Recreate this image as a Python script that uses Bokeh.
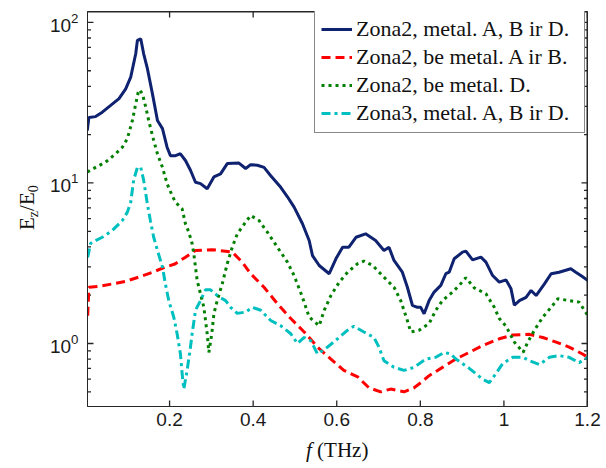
from bokeh.plotting import figure
from bokeh.models import (Range1d, FixedTicker, NumeralTickFormatter, Legend, LegendItem, Div, Span)
from bokeh.layouts import row, column
from bokeh.embed import file_html
from bokeh.resources import INLINE
import math

# ---------------- data ----------------
x_ticks = [0.2, 0.4, 0.6, 0.8, 1.0, 1.2]
y_major = [1, 10, 100]

series_labels = ["Zona2, metal. A, B ir D.",
                 "Zona2, be metal. A ir B.",
                 "Zona2, be metal. D.",
                 "Zona3, metal. A, B ir D."]

navy_x = [0.003, 0.007, 0.023, 0.039, 0.059, 0.079, 0.095, 0.107, 0.119, 0.123, 0.131, 0.138,
          0.147, 0.159, 0.171, 0.183, 0.194, 0.202, 0.214, 0.226, 0.238, 0.250, 0.262, 0.274,
          0.290, 0.306, 0.322, 0.338, 0.366, 0.382, 0.394, 0.410, 0.426, 0.442, 0.466, 0.482,
          0.498, 0.518, 0.534, 0.542, 0.558, 0.582, 0.598, 0.614, 0.629, 0.646, 0.669, 0.693,
          0.713, 0.725, 0.737, 0.757, 0.769, 0.781, 0.793, 0.801, 0.809, 0.821, 0.833, 0.849,
          0.861, 0.869, 0.881, 0.901, 0.909, 0.925, 0.945, 0.957, 0.973, 0.989, 1.005, 1.017,
          1.025, 1.037, 1.053, 1.065, 1.077, 1.097, 1.113, 1.132, 1.160, 1.172, 1.184, 1.201]
navy_y = [21.2, 25.6, 25.9, 27.6, 30.4, 33.5, 38.6, 45.6, 63.8, 77.3, 79.1, 63.8,
          51.5, 35.9, 24.5, 21.8, 16.7, 14.8, 14.8, 15.2, 13.8, 12.0, 10.1, 9.9,
          9.2, 10.9, 11.4, 13.2, 13.3, 12.3, 13.0, 12.9, 12.5, 11.1, 9.4, 8.2,
          7.07, 5.57, 4.38, 3.53, 3.06, 2.72, 3.37, 3.98, 3.98, 4.59, 4.82, 4.38,
          3.80, 3.98, 3.29, 2.78, 2.24, 1.73, 1.68, 1.68, 1.53, 1.85, 2.09, 2.30,
          2.72, 2.78, 3.37, 3.71, 3.76, 3.32, 3.45, 3.21, 2.65, 2.41, 2.49, 2.19,
          1.73, 1.85, 1.94, 2.14, 1.99, 2.35, 2.72, 2.78, 2.92, 2.78, 2.65, 2.47]

red_x = [0.004, 0.007, 0.031, 0.063, 0.095, 0.126, 0.159, 0.190, 0.214, 0.238, 0.262, 0.302,
         0.334, 0.350, 0.374, 0.394, 0.426, 0.458, 0.490, 0.522, 0.554, 0.586, 0.617, 0.650,
         0.677, 0.705, 0.729, 0.761, 0.785, 0.801, 0.821, 0.853, 0.885, 0.917, 0.949, 0.989,
         1.021, 1.061, 1.093, 1.125, 1.156, 1.188, 1.201]
red_y = [1.49, 2.24, 2.27, 2.35, 2.44, 2.59, 2.78, 2.99, 3.14, 3.45, 3.80, 3.84,
         3.76, 3.71, 3.21, 2.72, 2.24, 1.77, 1.43, 1.18, 0.95, 0.80, 0.68, 0.62,
         0.53, 0.50, 0.52, 0.50, 0.53, 0.57, 0.63, 0.71, 0.80, 0.88, 0.97, 1.07,
         1.13, 1.14, 1.09, 1.02, 0.95, 0.86, 0.82]

green_x = [0.003, 0.023, 0.047, 0.071, 0.087, 0.099, 0.111, 0.119, 0.125, 0.128, 0.135, 0.143,
           0.150, 0.162, 0.171, 0.183, 0.194, 0.206, 0.214, 0.230, 0.238, 0.246, 0.254, 0.258,
           0.262, 0.266, 0.274, 0.282, 0.286, 0.290, 0.294, 0.301, 0.306, 0.314, 0.326, 0.338,
           0.350, 0.362, 0.382, 0.394, 0.414, 0.434, 0.458, 0.482, 0.498, 0.518, 0.534, 0.558,
           0.570, 0.586, 0.606, 0.626, 0.650, 0.665, 0.686, 0.709, 0.737, 0.753, 0.769, 0.777,
           0.797, 0.821, 0.837, 0.853, 0.877, 0.893, 0.909, 0.929, 0.957, 0.977, 0.989, 1.005,
           1.025, 1.046, 1.057, 1.073, 1.093, 1.113, 1.129, 1.156, 1.180, 1.201]
green_y = [11.7, 12.5, 13.5, 15.2, 16.7, 18.9, 24.5, 31.1, 36.8, 38.1, 35.9, 29.7,
           24.5, 18.4, 15.2, 12.5, 9.9, 8.36, 7.59, 6.91, 5.57, 4.94, 4.18, 3.62,
           2.99, 2.47, 2.04, 1.68, 1.39, 1.15, 0.88, 1.15, 1.53, 1.85, 2.35, 3.14,
           3.98, 4.82, 5.70, 6.27, 5.84, 4.94, 3.98, 3.21, 2.65, 1.94, 1.46, 1.29,
           1.61, 1.99, 2.41, 2.78, 3.14, 3.26, 3.06, 2.65, 2.24, 1.85, 1.39, 1.18,
           1.21, 1.33, 1.61, 1.85, 2.09, 2.30, 2.57, 2.22, 2.04, 1.68, 1.43, 1.28,
           1.02, 0.88, 1.02, 1.21, 1.46, 1.68, 1.90, 1.85, 1.81, 1.49]

cyan_x = [0.004, 0.011, 0.015, 0.039, 0.063, 0.087, 0.099, 0.107, 0.114, 0.123, 0.131, 0.138,
          0.147, 0.154, 0.162, 0.171, 0.183, 0.190, 0.198, 0.210, 0.218, 0.226, 0.230, 0.234,
          0.242, 0.250, 0.254, 0.262, 0.274, 0.286, 0.298, 0.314, 0.334, 0.346, 0.362, 0.382,
          0.398, 0.418, 0.442, 0.466, 0.490, 0.506, 0.522, 0.538, 0.554, 0.578, 0.602, 0.626,
          0.641, 0.665, 0.689, 0.701, 0.713, 0.737, 0.761, 0.785, 0.801, 0.813, 0.837, 0.857,
          0.873, 0.885, 0.917, 0.949, 0.965, 0.981, 0.997, 1.021, 1.046, 1.061, 1.085, 1.109,
          1.132, 1.156, 1.180, 1.201]
cyan_y = [3.44, 4.20, 4.28, 4.59, 5.06, 5.84, 6.58, 7.59, 10.4, 12.5, 12.5, 10.4,
          7.35, 5.84, 4.59, 3.80, 2.99, 2.35, 1.85, 1.46, 1.15, 0.86, 0.65, 0.52,
          0.68, 0.95, 1.15, 1.61, 1.85, 2.16, 2.16, 1.99, 1.85, 1.68, 1.54, 1.57,
          1.68, 1.61, 1.39, 1.29, 1.15, 1.00, 1.09, 1.04, 0.86, 0.95, 1.07, 1.21,
          1.28, 1.18, 1.09, 0.95, 0.78, 0.71, 0.68, 0.71, 0.76, 0.80, 0.82, 0.88,
          0.86, 0.80, 0.70, 0.60, 0.57, 0.65, 0.75, 0.82, 0.82, 0.78, 0.74, 0.82,
          0.84, 0.82, 0.76, 0.82]

# ---------------- layout constants ----------------
AX = "#262626"
SANS = "Liberation Sans"
SERIF = "Liberation Serif"
X0, X1 = 0.0036, 1.2
Y0, Y1 = 0.405, 117.0
YT_W = 40            # width of the y-title strip
XT_H = 30            # height of the x-title strip
PW, PH = 606 - YT_W, 468 - XT_H
FL, FR, FT, FB = 87 - YT_W, 19, 11, PH - 406     # borders around the frame
FW, FH = PW - FL - FR, PH - FT - FB               # frame size in px

p = figure(width=PW, height=PH, y_axis_type="log",
           x_range=Range1d(X0, X1), y_range=Range1d(Y0, Y1),
           output_backend="svg", toolbar_location=None,
           min_border_left=FL, min_border_right=FR, min_border_top=FT,
           min_border_bottom=FB)
p.grid.visible = False
p.outline_line_color = AX
p.outline_line_width = 1
p.background_fill_color = "white"
p.border_fill_color = "white"

# bottom axis
xa = p.xaxis[0]
xa.ticker = FixedTicker(ticks=x_ticks)
xa.formatter = NumeralTickFormatter(format="0.[0]")
xa.major_tick_in = 0
xa.major_tick_out = 0
xa.minor_tick_line_color = None
xa.axis_line_color = AX
xa.major_label_text_font = SANS
xa.major_label_text_font_size = "19px"
xa.major_label_text_color = "#1a1a1a"
xa.major_label_standoff = 6

# left axis
ya = p.yaxis[0]
ya.major_tick_in = 0
ya.major_tick_out = 0
ya.minor_tick_in = 0
ya.minor_tick_out = 0
ya.axis_line_color = AX
ya.major_label_text_font = SANS
ya.major_label_text_font_size = "19px"
ya.major_label_text_color = "#1a1a1a"
ya.major_label_standoff = 9

# ---- box (top/right edges) ----
p.add_layout(Span(location=Y1, dimension="width", line_color=AX, line_width=2))
p.add_layout(Span(location=X1, dimension="height", line_color=AX, line_width=2))

# ---- inward tick marks at the tick values ----
kx = (X1 - X0) / FW                                    # data units per px (x)
ky = 10 ** ((math.log10(Y1) - math.log10(Y0)) / FH)    # factor per px (log y)
y_minor = [m * 10.0 ** k for k in (-1, 0, 1) for m in range(2, 10) if Y0 <= m * 10.0 ** k <= Y1]
seg = dict(line_color=AX, line_width=1.3)
nx, nM, nm = len(x_ticks), len(y_major), len(y_minor)
p.segment(x0=x_ticks, x1=x_ticks, y0=[Y0] * nx, y1=[Y0 * ky ** 6] * nx, **seg)
p.segment(x0=x_ticks, x1=x_ticks, y0=[Y1] * nx, y1=[Y1 / ky ** 6] * nx, **seg)
p.segment(x0=[X0] * nM, x1=[X0 + 6 * kx] * nM, y0=y_major, y1=y_major, **seg)
p.segment(x0=[X1] * nM, x1=[X1 - 6 * kx] * nM, y0=y_major, y1=y_major, **seg)
p.segment(x0=[X0] * nm, x1=[X0 + 3.5 * kx] * nm, y0=y_minor, y1=y_minor, **seg)
p.segment(x0=[X1] * nm, x1=[X1 - 3.5 * kx] * nm, y0=y_minor, y1=y_minor, **seg)

# ---------------- lines ----------------
r1 = p.line(navy_x, navy_y, line_color="#0f2270", line_width=3)
r2 = p.line(red_x, red_y, line_color="#ff0000", line_width=3, line_dash="9 5")
r3 = p.line(green_x, green_y, line_color="#007f00", line_width=3, line_dash="3 4")
r4 = p.line(cyan_x, cyan_y, line_color="#00bfbf", line_width=3, line_dash="9 4 3 4")

legend = Legend(items=[LegendItem(label=series_labels[0], renderers=[r1]),
                       LegendItem(label=series_labels[1], renderers=[r2]),
                       LegendItem(label=series_labels[2], renderers=[r3]),
                       LegendItem(label=series_labels[3], renderers=[r4])],
                location=(227, 273))
legend.label_text_font = SERIF
legend.label_text_font_size = "22px"
legend.label_text_color = "#111111"
legend.glyph_width = 31
legend.glyph_height = 22
legend.label_height = 22
legend.label_width = 222
legend.label_standoff = 4
legend.spacing = 2
legend.padding = 6
legend.margin = 0
legend.border_line_color = "#111111"
legend.border_line_width = 1
legend.background_fill_color = "white"
legend.background_fill_alpha = 1
p.add_layout(legend)

# ---------------- axis titles (HTML text with sub/italic) ----------------
font_css = "font-family:'Liberation Serif'; font-size:21px; line-height:24px; color:#111111; white-space:nowrap;"
sub_css = "font-size:14px; vertical-align:-4px;"
y_title = Div(width=YT_W, height=PH, margin=(0, 0, 0, 0), text=(
    f'<div style="position:relative; width:{YT_W}px; height:{PH}px;">'
    f'<div style="position:absolute; left:15px; top:230px; transform-origin:0 0; '
    f'transform:rotate(-90deg); {font_css}">'
    f'E<span style="{sub_css}">z</span>/E<span style="{sub_css}">0</span></div></div>'))
x_title = Div(width=606, height=XT_H, margin=(0, 0, 0, 0), text=(
    f'<div style="position:relative; width:606px; height:{XT_H}px;">'
    f'<div style="position:absolute; left:306px; top:0px; {font_css}">'
    f'<i>f</i> (THz)</div></div>'))

layout = column(row(y_title, p, spacing=0), x_title, spacing=0)

open("out.html", "w").write(file_html(layout, INLINE))
